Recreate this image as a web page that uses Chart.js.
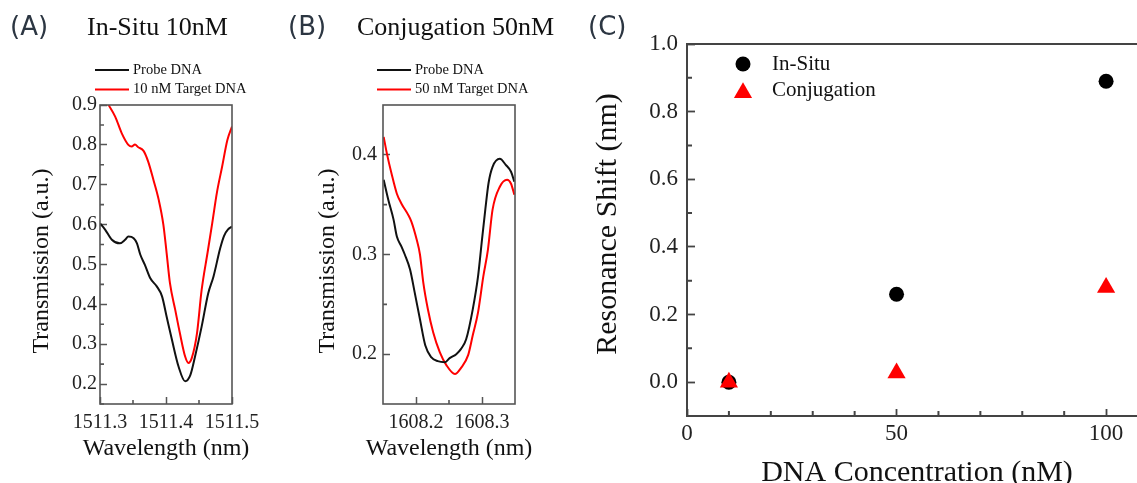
<!DOCTYPE html>
<html lang="en">
<head>
<meta charset="UTF-8">
<title>DNA Hybridization Resonance Shift</title>
<script src="https://cdn.jsdelivr.net/npm/chart.js"></script>
<style>
    html, body {
        margin: 0;
        padding: 0;
        background: #fff;
        width: 1137px;
        height: 483px;
        overflow: hidden;
    }

    canvas {
        position: absolute;
        top: 0;
    }

    .tag {
        position: absolute;
        top: 13px;
        font: 26px 'DejaVu Sans', sans-serif;
        line-height: 26px;
        color: #2c3642;
        white-space: nowrap;
    }

    .head {
        position: absolute;
        top: 14px;
        font: 26px 'Liberation Serif', 'Times New Roman', serif;
        line-height: 26px;
        color: #111;
        white-space: nowrap;
    }
</style>
</head>
<body>
<canvas id="chartA" width="280" height="483" style="left:0"></canvas>
<canvas id="chartB" width="280" height="483" style="left:280px"></canvas>
<canvas id="chartC" width="620" height="483" style="left:560px"></canvas>

<div class="tag" style="left:10px">(A)</div>
<div class="head" style="left:87px">In-Situ 10nM</div>
<div class="tag" style="left:288px">(B)</div>
<div class="head" style="left:357px">Conjugation 50nM</div>
<div class="tag" style="left:588px">(C)</div>

<script>
    // (A) in-situ hybridisation, 10 nM target
    const aProbeX = [1511.300, 1511.308, 1511.318, 1511.330, 1511.338, 1511.343, 1511.351, 1511.356,
                     1511.361, 1511.368, 1511.376, 1511.386, 1511.394, 1511.401, 1511.409, 1511.419,
                     1511.429, 1511.437, 1511.444, 1511.454, 1511.464, 1511.472, 1511.482, 1511.488,
                     1511.494, 1511.500];
    const aProbeY = [0.603, 0.587, 0.562, 0.553, 0.562, 0.570, 0.566, 0.553,
                     0.525, 0.499, 0.466, 0.445, 0.420, 0.369, 0.311, 0.244,
                     0.207, 0.223, 0.269, 0.344, 0.428, 0.470, 0.540, 0.572,
                     0.588, 0.595];
    const aTargetX = [1511.300, 1511.313, 1511.323, 1511.333, 1511.343, 1511.348, 1511.353, 1511.358,
                      1511.366, 1511.373, 1511.381, 1511.389, 1511.396, 1511.401, 1511.406, 1511.414,
                      1511.421, 1511.429, 1511.434, 1511.439, 1511.447, 1511.454, 1511.463, 1511.470,
                      1511.477, 1511.485, 1511.493, 1511.500];
    const aTargetY = [0.936, 0.900, 0.871, 0.829, 0.800, 0.796, 0.801, 0.794,
                      0.785, 0.758, 0.712, 0.662, 0.600, 0.528, 0.453, 0.386,
                      0.328, 0.269, 0.253, 0.265, 0.328, 0.436, 0.530, 0.603,
                      0.679, 0.745, 0.812, 0.846];
    const aXTicks = [1511.3, 1511.4, 1511.5];
    const aXMinor = [1511.35, 1511.45];
    const aYTicks = [0.2, 0.3, 0.4, 0.5, 0.6, 0.7, 0.8, 0.9];
    const aYMinor = [0.15, 0.25, 0.35, 0.45, 0.55, 0.65, 0.75, 0.85];

    // (B) conjugation, 50 nM target
    const bProbeX = [1608.151, 1608.158, 1608.166, 1608.171, 1608.178, 1608.183, 1608.191, 1608.198,
                     1608.206, 1608.214, 1608.223, 1608.233, 1608.244, 1608.251, 1608.261, 1608.268,
                     1608.276, 1608.286, 1608.294, 1608.300, 1608.305, 1608.310, 1608.316, 1608.327,
                     1608.336, 1608.344, 1608.349];
    const bProbeY = [0.375, 0.355, 0.335, 0.318, 0.308, 0.300, 0.285, 0.262,
                     0.235, 0.209, 0.197, 0.193, 0.192, 0.196, 0.200, 0.205,
                     0.215, 0.245, 0.278, 0.315, 0.345, 0.372, 0.388, 0.396,
                     0.390, 0.383, 0.373];
    const bTargetX = [1608.151, 1608.156, 1608.163, 1608.171, 1608.178, 1608.188, 1608.193, 1608.201,
                      1608.206, 1608.211, 1608.218, 1608.226, 1608.236, 1608.246, 1608.259, 1608.268,
                      1608.279, 1608.286, 1608.294, 1608.302, 1608.309, 1608.316, 1608.327, 1608.338,
                      1608.344, 1608.349];
    const bTargetY = [0.418, 0.401, 0.381, 0.361, 0.351, 0.340, 0.333, 0.315,
                      0.300, 0.272, 0.245, 0.222, 0.202, 0.189, 0.180, 0.186,
                      0.199, 0.219, 0.242, 0.278, 0.305, 0.345, 0.368, 0.375,
                      0.371, 0.360];
    const bXTicks = [1608.2, 1608.3];
    const bXMinor = [1608.25];
    const bYTicks = [0.2, 0.3, 0.4];
    const bYMinor = [0.25, 0.35];

    // (C) resonance shift against concentration
    const concentrations = [10, 50, 100];
    const inSituShift = [0.0, 0.26, 0.89];
    const conjugationShift = [0.0, 0.027, 0.28];
    const cXTicks = [0, 50, 100];
    const cXMinor = [10, 20, 30, 40, 60, 70, 80, 90];
    const cYTicks = [0.0, 0.2, 0.4, 0.6, 0.8, 1.0];
    const cYMinor = [0.1, 0.3, 0.5, 0.7, 0.9];

    const SERIF = "'Liberation Serif', 'Times New Roman', serif";
    Chart.defaults.font.family = SERIF;
    Chart.defaults.color = '#1a1a1a';

    function pairs(xs, ys) {
        return xs.map((x, i) => ({ x, y: ys[i] }));
    }

    function fixedTicks(values) {
        return scale => { scale.ticks = values.map(v => ({ value: v })); };
    }

    // frame, short minor ticks, the key and the axis captions
    const decor = {
        id: 'decor',
        afterDatasetsDraw(chart, args, opts) {
            const { ctx, chartArea: a, scales } = chart;
            ctx.save();
            ctx.strokeStyle = opts.color;
            ctx.lineWidth = opts.width;
            ctx.beginPath();
            (opts.minorX || []).forEach(v => {
                const px = scales.x.getPixelForValue(v);
                ctx.moveTo(px, a.bottom);
                ctx.lineTo(px, a.bottom - opts.minorLen);
            });
            (opts.minorY || []).forEach(v => {
                const py = scales.y.getPixelForValue(v);
                ctx.moveTo(a.left, py);
                ctx.lineTo(a.left + opts.minorLen, py);
            });
            ctx.stroke();
            ctx.strokeRect(a.left, a.top, a.right - a.left, a.bottom - a.top);
            ctx.restore();
        },
        afterDraw(chart, args, opts) {
            const ctx = chart.ctx;
            const k = opts.key;
            if (k) {
                chart.data.datasets.forEach((ds, i) => {
                    const y = k.y + i * k.dy;
                    ctx.save();
                    if (k.kind === 'line') {
                        ctx.strokeStyle = ds.borderColor;
                        ctx.lineWidth = ds.borderWidth;
                        ctx.beginPath();
                        ctx.moveTo(k.x, y);
                        ctx.lineTo(k.x + k.len, y);
                        ctx.stroke();
                    } else {
                        const r = ds.pointRadius;
                        ctx.fillStyle = ds.backgroundColor;
                        ctx.beginPath();
                        if (ds.pointStyle === 'triangle') {
                            const cy = y + r / 4;
                            for (let j = 0; j < 3; j++) {
                                const ang = j * 2 * Math.PI / 3;
                                ctx.lineTo(k.x + Math.sin(ang) * r, cy - Math.cos(ang) * r);
                            }
                            ctx.closePath();
                        } else {
                            ctx.arc(k.x, y, r, 0, Math.PI * 2);
                        }
                        ctx.fill();
                    }
                    ctx.fillStyle = '#111';
                    ctx.font = k.size + 'px ' + SERIF;
                    ctx.textBaseline = 'middle';
                    ctx.textAlign = 'left';
                    ctx.fillText(ds.label, k.textX, y);
                    ctx.restore();
                });
            }
            (opts.titles || []).forEach(t => {
                ctx.save();
                ctx.translate(t.x, t.y);
                if (t.vertical) ctx.rotate(-Math.PI / 2);
                ctx.fillStyle = '#111';
                ctx.font = t.size + 'px ' + SERIF;
                ctx.textAlign = 'center';
                ctx.textBaseline = 'middle';
                ctx.fillText(t.text, 0, 0);
                ctx.restore();
            });
        }
    };
    Chart.register(decor);

    function axis(cfg) {
        return {
            type: 'linear',
            min: cfg.min,
            max: cfg.max,
            afterBuildTicks: fixedTicks(cfg.ticks),
            afterFit: cfg.fit,
            border: { display: false },
            grid: {
                drawOnChartArea: false,
                tickLength: -cfg.tick,
                tickWidth: cfg.lineWidth,
                tickColor: cfg.lineColor
            },
            ticks: {
                padding: cfg.pad,
                autoSkip: false,
                maxRotation: 0,
                color: '#222',
                font: { size: cfg.fontSize },
                callback: cfg.format
            }
        };
    }

    function spectrum(canvasId, probe, target, targetLabel, view) {
        return new Chart(document.getElementById(canvasId), {
            type: 'scatter',
            data: {
                datasets: [
                    {
                        label: 'Probe DNA',
                        data: probe,
                        showLine: true,
                        borderColor: '#111',
                        backgroundColor: '#111',
                        borderWidth: 2,
                        pointRadius: 0,
                        cubicInterpolationMode: 'monotone'
                    },
                    {
                        label: targetLabel,
                        data: target,
                        showLine: true,
                        borderColor: '#ff0000',
                        backgroundColor: '#ff0000',
                        borderWidth: 2,
                        pointRadius: 0,
                        cubicInterpolationMode: 'monotone'
                    }
                ]
            },
            options: {
                responsive: false,
                animation: false,
                events: [],
                layout: { padding: { left: 0, top: 105, right: view.right, bottom: 0 } },
                scales: {
                    x: axis({
                        min: view.xMin, max: view.xMax, ticks: view.xTicks,
                        fit: s => { s.height = 79; },
                        tick: 7, pad: 14, fontSize: 20, lineWidth: 1.5, lineColor: '#555',
                        format: v => v.toFixed(1)
                    }),
                    y: axis({
                        min: view.yMin, max: view.yMax, ticks: view.yTicks,
                        fit: s => { s.width = view.left; },
                        tick: 7, pad: view.yPad, fontSize: 20, lineWidth: 1.5, lineColor: '#555',
                        format: v => v.toFixed(1)
                    })
                },
                plugins: {
                    legend: { display: false },
                    tooltip: { enabled: false },
                    decor: {
                        color: '#555',
                        width: 1.6,
                        minorX: view.xMinor,
                        minorY: view.yMinor,
                        minorLen: 4,
                        key: { kind: 'line', x: view.keyX, y: 70, dy: 19.5, len: 34, textX: view.keyX + 38, size: 14.5 },
                        titles: [
                            { text: 'Transmission (a.u.)', x: view.yTitleX, y: 261, size: 24, vertical: true },
                            { text: 'Wavelength (nm)', x: view.xTitleX, y: 449, size: 24 }
                        ]
                    }
                }
            }
        });
    }

    spectrum('chartA', pairs(aProbeX, aProbeY), pairs(aTargetX, aTargetY), '10 nM Target DNA', {
        xMin: 1511.3, xMax: 1511.5, xTicks: aXTicks, xMinor: aXMinor,
        yMin: 0.15, yMax: 0.9, yTicks: aYTicks, yMinor: aYMinor,
        left: 100, right: 48, yPad: 10, keyX: 95, yTitleX: 42, xTitleX: 166
    });

    spectrum('chartB', pairs(bProbeX, bProbeY), pairs(bTargetX, bTargetY), '50 nM Target DNA', {
        xMin: 1608.15, xMax: 1608.35, xTicks: bXTicks, xMinor: bXMinor,
        yMin: 0.15, yMax: 0.45, yTicks: bYTicks, yMinor: bYMinor,
        left: 103, right: 45, yPad: 13, keyX: 97, yTitleX: 48, xTitleX: 169
    });

    new Chart(document.getElementById('chartC'), {
        type: 'scatter',
        data: {
            datasets: [
                {
                    label: 'In-Situ',
                    data: pairs(concentrations, inSituShift),
                    backgroundColor: '#000',
                    borderColor: '#000',
                    borderWidth: 0,
                    pointStyle: 'circle',
                    pointRadius: 7.5,
                    order: 1
                },
                {
                    label: 'Conjugation',
                    data: pairs(concentrations, conjugationShift),
                    backgroundColor: '#ff0000',
                    borderColor: '#ff0000',
                    borderWidth: 0,
                    pointStyle: 'triangle',
                    pointRadius: 10.5,
                    order: 0
                }
            ]
        },
        options: {
            responsive: false,
            animation: false,
            events: [],
            layout: { padding: { left: 0, top: 44, right: 32, bottom: 0 } },
            scales: {
                x: axis({
                    min: 0, max: 110, ticks: cXTicks,
                    fit: s => { s.height = 67; },
                    tick: 7, pad: 11, fontSize: 23, lineWidth: 1.8, lineColor: '#444',
                    format: v => String(v)
                }),
                y: axis({
                    min: -0.1, max: 1.0, ticks: cYTicks,
                    fit: s => { s.width = 127; },
                    tick: 8, pad: 17, fontSize: 23, lineWidth: 1.8, lineColor: '#444',
                    format: v => v.toFixed(1)
                })
            },
            plugins: {
                legend: { display: false },
                tooltip: { enabled: false },
                decor: {
                    color: '#444',
                    width: 2,
                    minorX: cXMinor,
                    minorY: cYMinor,
                    minorLen: 5,
                    key: { kind: 'point', x: 183, y: 64, dy: 26, textX: 212, size: 21 },
                    titles: [
                        { text: 'Resonance Shift (nm)', x: 48, y: 224, size: 30, vertical: true },
                        { text: 'DNA Concentration (nM)', x: 357, y: 473, size: 30 }
                    ]
                }
            }
        }
    });
</script>
</body>
</html>
